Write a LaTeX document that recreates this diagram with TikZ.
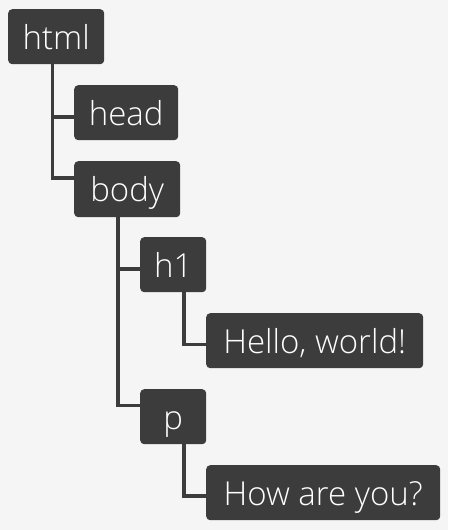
\documentclass[tikz,border=0pt]{standalone}
\usepackage{fontspec}
\setmainfont{Open Sans Light}
\usetikzlibrary{calc}
\definecolor{bgc}{HTML}{F5F5F5}
\definecolor{boxc}{HTML}{3C3C3C}
\begin{document}
\begin{tikzpicture}[x=1pt,y=-1pt,
  tag/.style={fill=boxc,text=white,rounded corners=4pt,inner sep=0pt,
    minimum height=55pt,text height=28pt,text depth=3pt,anchor=north west,
    font=\fontsize{33}{33}\selectfont},
  conn/.style={draw=boxc,line width=3.5pt}]
\fill[bgc] (0,0) rectangle (448,530);
\useasboundingbox (0,0) rectangle (448,530);
\node[tag,minimum width=96pt]  (html)  at (8,9)     {html};
\node[tag,minimum width=104pt] (head)  at (74,85)   {head};
\node[tag,minimum width=106pt,minimum height=56pt] (body)  at (74,161)  {body};
\node[tag,minimum width=66pt]  (h1)    at (140,237) {h1};
\node[tag,minimum width=217pt] (hello) at (206,313) {Hello, world!};
\node[tag,minimum width=66pt]  (p)     at (140,389) {p};
\node[tag,minimum width=234pt] (how)   at (206,465) {How are you?};
\coordinate (hv) at ($(html.south west)+(44.5,0)$);
\coordinate (bv) at ($(body.south west)+(44,0)$);
\coordinate (h1v) at ($(h1.south west)+(44,0)$);
\coordinate (pv) at ($(p.south west)+(44,0)$);
\coordinate (headin) at ($(head.north west)+(0,32)$);
\coordinate (bodyin) at ($(body.north west)+(0,17)$);
\coordinate (h1in) at ($(h1.north west)+(0,32)$);
\coordinate (pin) at ($(p.north west)+(0,16.5)$);
\coordinate (helloin) at ($(hello.north west)+(0,31.5)$);
\coordinate (howin) at ($(how.north west)+(0,31)$);
\draw[conn] (hv) |- (headin);
\draw[conn] (hv) |- (bodyin);
\draw[conn] (bv) |- (h1in);
\draw[conn] (bv) |- (pin);
\draw[conn] (h1v) |- (helloin);
\draw[conn] (pv) |- (howin);
\end{tikzpicture}
\end{document}
